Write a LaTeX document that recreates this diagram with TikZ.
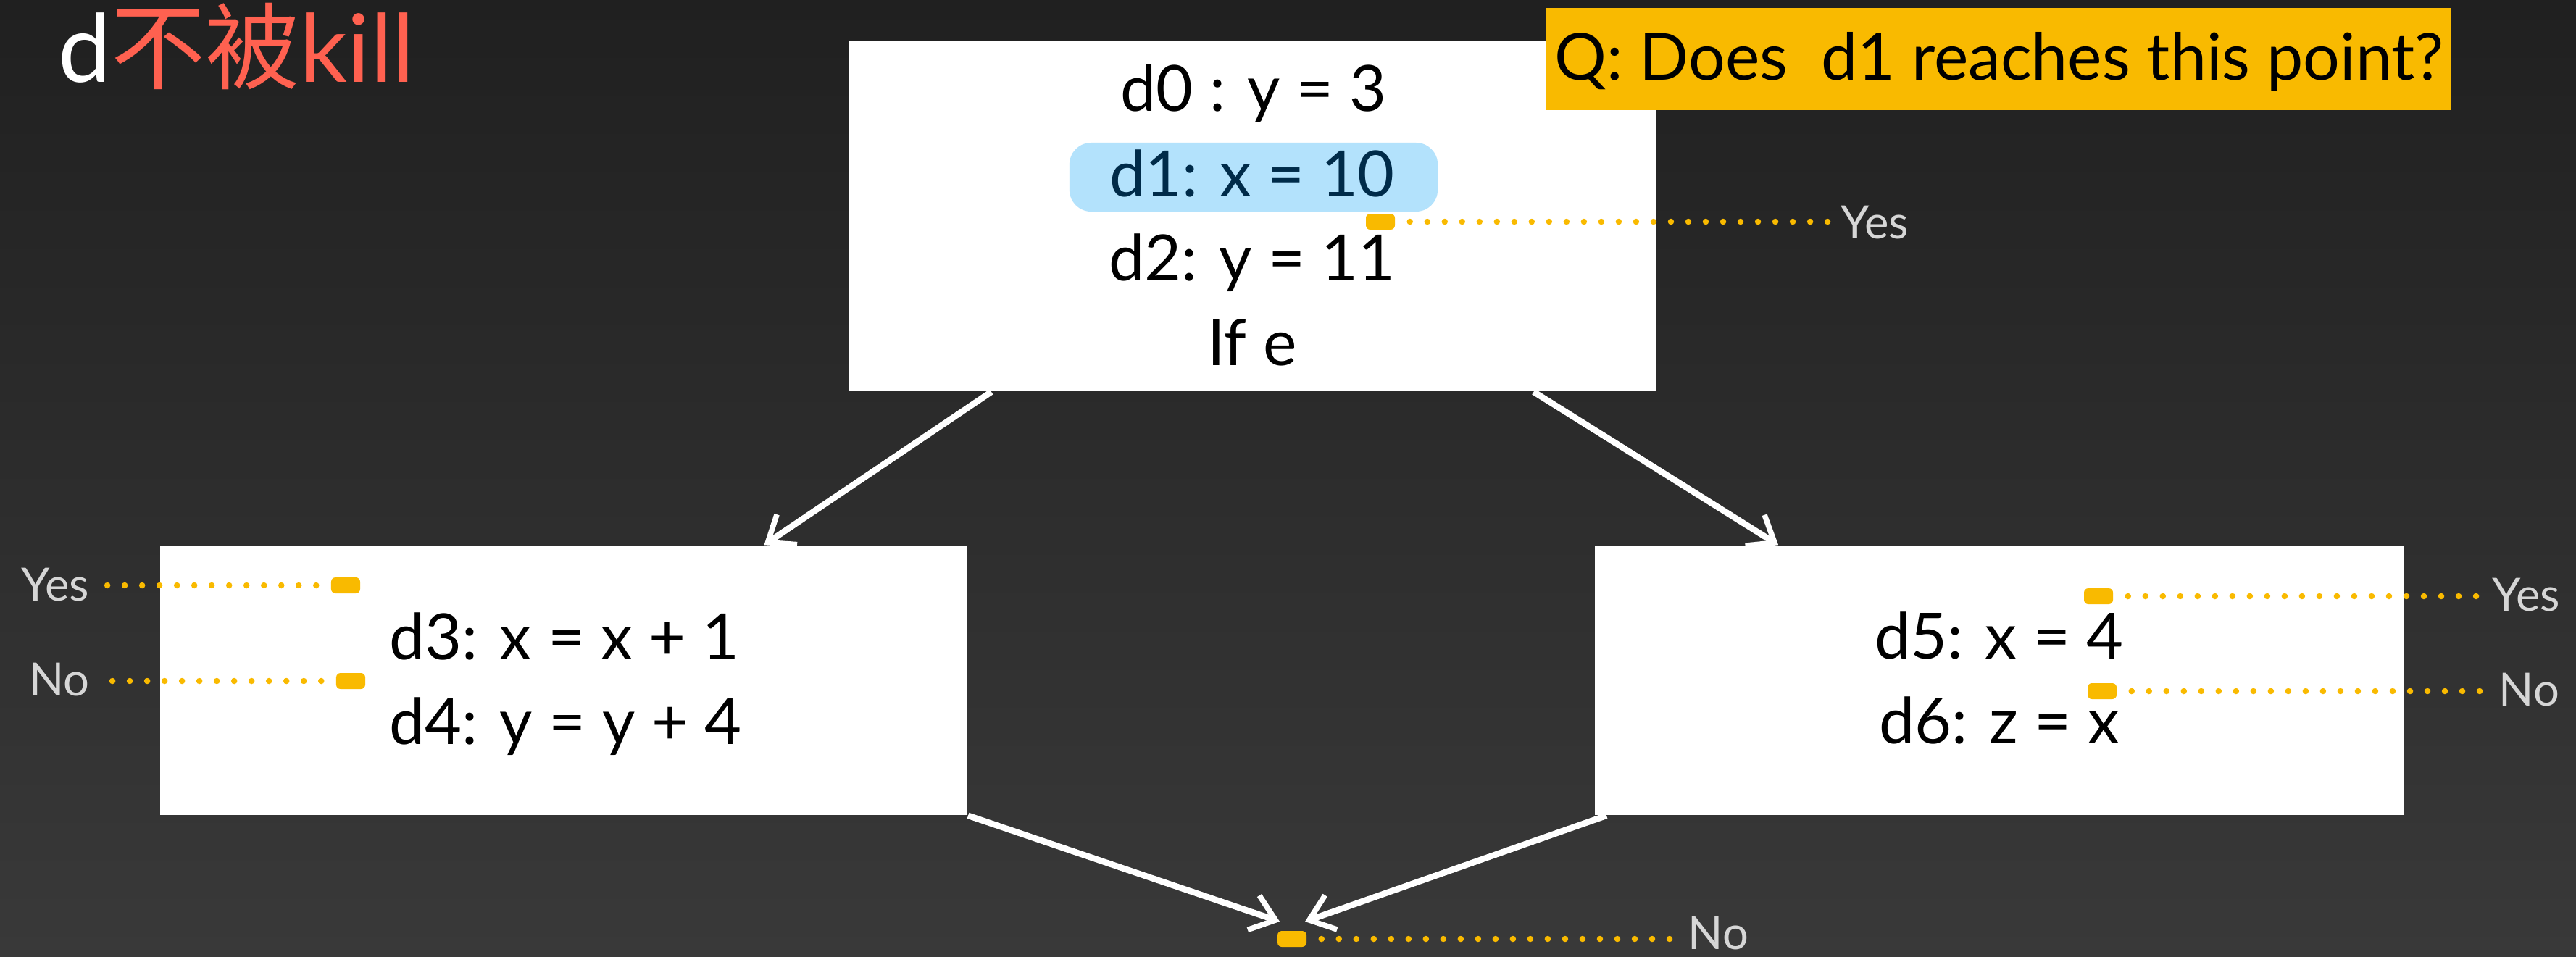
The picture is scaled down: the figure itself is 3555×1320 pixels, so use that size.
\documentclass[tikz,border=0pt]{standalone}
\usepackage{fontspec}
\setmainfont{Lato}
\newfontfamily\cjk{Noto Sans CJK SC}
\usetikzlibrary{arrows.meta}
\definecolor{bgtop}{HTML}{202020}
\definecolor{bgbot}{HTML}{393939}
\definecolor{ylw}{HTML}{F9BA00}
\definecolor{coral}{HTML}{FF6150}
\definecolor{hlblue}{HTML}{B3E2FC}
\definecolor{navy}{HTML}{002B49}
\definecolor{lblgray}{HTML}{D6D6D6}
\tikzset{
  box/.style={fill=white, draw=none, inner sep=0pt},
  txt/.style={inner sep=0pt, text=black, font=\fontsize{25}{30}\selectfont},
  qtxt/.style={inner sep=0pt, text=black, font=\fontsize{25.5}{30}\selectfont},
  lbl/.style={inner sep=0pt, text=lblgray, font=\fontsize{18}{22}\selectfont},
  ymark/.style={fill=ylw, draw=none, minimum width=0.40cm, minimum height=0.22cm, inner sep=0pt, rounded corners=0.06cm},
  dots/.style={draw=ylw, line width=0.085cm, line cap=round, dash pattern=on 0pt off 0.24cm},
  arr/.style={draw=white, line width=0.085cm, -{Straight Barb[length=0.32cm,width=0.5cm,line width=0.075cm]}}
}
\begin{document}
\begin{tikzpicture}[x=0.01cm,y=-0.01cm]
\useasboundingbox (0,0) rectangle (3555,1320);
\fill[top color=bgtop, bottom color=bgbot] (0,0) rectangle (3555,1320);

% title
\node[anchor=base west, inner sep=0pt, text=white, font=\fontsize{37}{43}\selectfont] (title) at (80,113) {d{\color{coral}\cjk 不被}{\color{coral}kill}};

% top box
\node[box, minimum width=11.13cm, minimum height=4.83cm] (top) at (1728.5,298.5) {};
\node[fill=hlblue, draw=none, minimum width=5.08cm, minimum height=0.95cm, rounded corners=0.3cm, inner sep=0pt] (hl) at (1730,244.5) {};
\node[txt, anchor=base] (l0) at (1730,153) {d0 : y = 3};
\node[txt, anchor=base, text=navy] (l1) at (1728,271) {d1: x = 10};
\node[txt, anchor=base] (l2) at (1728,387) {d2: y = 11};
\node[txt, anchor=base] (l3) at (1728,504) {If e};

% question box (drawn over the top box)
\node[fill=ylw, draw=none, minimum width=12.49cm, minimum height=1.41cm, inner sep=0pt] (qbox) at (2757.5,81.5) {};
\node[qtxt, anchor=base] (qtext) at (2759,110) {Q: Does\ \ d1 reaches this point?};

% left box
\node[box, minimum width=11.14cm, minimum height=3.72cm] (lb) at (778,939) {};
\node[txt, anchor=base west] (l4) at (537,910) {d3: x = x + 1};
\node[txt, anchor=base west] (l5) at (537,1027) {d4: y = y + 4};

% right box
\node[box, minimum width=11.16cm, minimum height=3.72cm] (rb) at (2759,939) {};
\node[txt, anchor=base] (l6) at (2759,909) {d5: x = 4};
\node[txt, anchor=base] (l7) at (2759,1026) {d6: z = x};

% markers and labels
\node[ymark] (m1) at (1905,306) {};
\node[lbl, anchor=base west] (y1) at (2540,329) {Yes};
\draw[dots, shorten <=0.2cm, shorten >=0.12cm] (m1.east) -- (m1.east -| y1.west);

\node[ymark] (m2) at (477,808) {};
\node[lbl, anchor=base east] (y2) at (124,829) {Yes};
\draw[dots, shorten <=0.2cm, shorten >=0.2cm] (m2.west) -- (m2.west -| y2.east);

\node[ymark] (m3) at (484,940) {};
\node[lbl, anchor=base east] (n3) at (124,960) {No};
\draw[dots, shorten <=0.2cm, shorten >=0.26cm] (m3.west) -- (m3.west -| n3.east);

\node[ymark] (m4) at (2896,823) {};
\node[lbl, anchor=base west] (y4) at (3439,843) {Yes};
\draw[dots, shorten <=0.2cm, shorten >=0.18cm] (m4.east) -- (m4.east -| y4.west);

\node[ymark] (m5) at (2901,954) {};
\node[lbl, anchor=base west] (n5) at (3448,974) {No};
\draw[dots, shorten <=0.2cm, shorten >=0.2cm] (m5.east) -- (m5.east -| n5.west);

\node[ymark] (m6) at (1783,1296) {};
\node[lbl, anchor=base west] (n6) at (2329,1310) {No};
\draw[dots, shorten <=0.2cm, shorten >=0.2cm] (m6.east) -- (m6.east -| n6.west);

% arrows
\coordinate (j1) at (1766,1272);
\coordinate (j2) at (1801,1272);
\draw[arr] ([xshift=1.97cm]top.south west) -- ([xshift=8.34cm]lb.north west);
\draw[arr] ([xshift=9.45cm]top.south west) -- ([xshift=2.54cm]rb.north west);
\draw[arr] (lb.south east) -- (j1);
\draw[arr] ([xshift=0.17cm]rb.south west) -- (j2);
\end{tikzpicture}
\end{document}
